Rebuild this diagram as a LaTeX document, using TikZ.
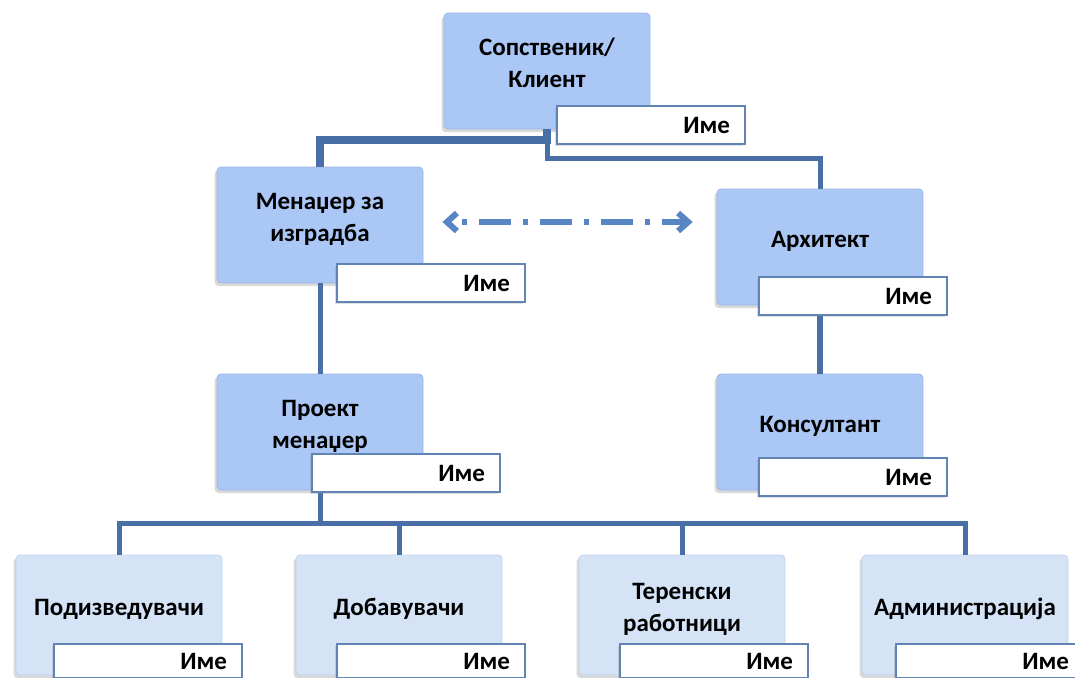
\documentclass[tikz,border=0pt]{standalone}
\usepackage{fontspec}
\setmainfont{Carlito}
\usetikzlibrary{arrows.meta,shadows}
\definecolor{orgBlue}{RGB}{72,112,166}
\definecolor{orgArrowBlue}{RGB}{88,134,196}
\definecolor{orgBoxBlue}{RGB}{170,199,246}
\definecolor{orgBoxEdge}{RGB}{156,184,230}
\definecolor{orgPaleBlue}{RGB}{213,227,247}
\definecolor{orgPaleEdge}{RGB}{192,210,236}
\definecolor{orgNameEdge}{RGB}{98,132,180}

\begin{document}
\begin{tikzpicture}[x=0.5pt, y=-0.5pt, font=\fontsize{12.5}{16}\selectfont\bfseries]
    \tikzstyle{role} = [draw=orgBoxEdge, fill=orgBoxBlue, rounded corners=2pt, minimum width=103pt, minimum height=58pt, align=center, text depth=8pt, drop shadow={shadow xshift=-1.2pt, shadow yshift=-1.5pt, opacity=0.3}]
    \tikzstyle{team} = [role, draw=orgPaleEdge, fill=orgPaleBlue, minimum height=60pt]
    \tikzstyle{namebox} = [draw=orgNameEdge, fill=white, line width=0.8pt, minimum height=19pt, inner xsep=7.5pt, text width=79pt, align=right, drop shadow={shadow xshift=-1pt, shadow yshift=-1pt, opacity=0.25}]
    \tikzstyle{link} = [orgBlue, line width=2.5pt]
    \tikzstyle{thicklink} = [orgBlue, line width=4pt]
    \tikzstyle{dasharrow} = [{Straight Barb[length=5pt, width=9pt]}-{Straight Barb[length=5pt, width=9pt]}, orgArrowBlue, line width=3pt, dash pattern=on 2.5pt off 6pt on 16pt off 6pt, dash phase=24.5pt]

    \useasboundingbox (0,0) rectangle (1075,677);

    % upper roles
    \node[role] (owner) at (547,71) {Сопственик/\\Клиент};
    \node[role] (cm) at (320,225) {Менаџер за\\изградба};
    \node[role] (arch) at (820,247) {Архитект};
    \node[role] (pm) at (320,432) {Проект\\менаџер};
    \node[role] (cons) at (820,432) {Консултант};

    % teams
    \node[team] (sub) at (119,615) {Подизведувачи};
    \node[team] (supp) at (399,615) {Добавувачи};
    \node[team] (field) at (682,615) {Теренски\\работници};
    \node[team] (admin) at (965,615) {Администрација};

    % connectors
    \draw[thicklink] (owner.south) -- ++(0,11) -| (cm.north);
    \draw[link] (owner.south) -- ++(0,29) -| (arch.north);
    \draw[link] (cm.south) -- (pm.north);
    \draw[link, line width=3pt] (arch.south) -- (cons.north);
    \draw[link] (pm.south) -- ++(0,33) coordinate (bus);
    \foreach \team in {sub,supp,field,admin}
        \draw[link] (bus) -| (\team.north);
    \draw[dasharrow, shorten <=9.5pt, shorten >=12pt] ([yshift=1.5pt]cm.east) -- ([yshift=1.5pt]cm.east -| arch.west);

    % name tags
    \node[namebox] (ownername) at (651,125) {Име};
    \node[namebox] (cmname) at (431,283) {Име};
    \node[namebox] (archname) at (853,296) {Име};
    \node[namebox] (pmname) at (406,473) {Име};
    \node[namebox] (consname) at (853,477) {Име};
    \node[namebox, minimum height=17pt] (subname) at (148,661) {Име};
    \node[namebox, minimum height=17pt] (suppname) at (431,661) {Име};
    \node[namebox, minimum height=17pt] (fieldname) at (714,661) {Име};
    \node[namebox, minimum height=17pt] (adminname) at (990,661) {Име};
\end{tikzpicture}
\end{document}
